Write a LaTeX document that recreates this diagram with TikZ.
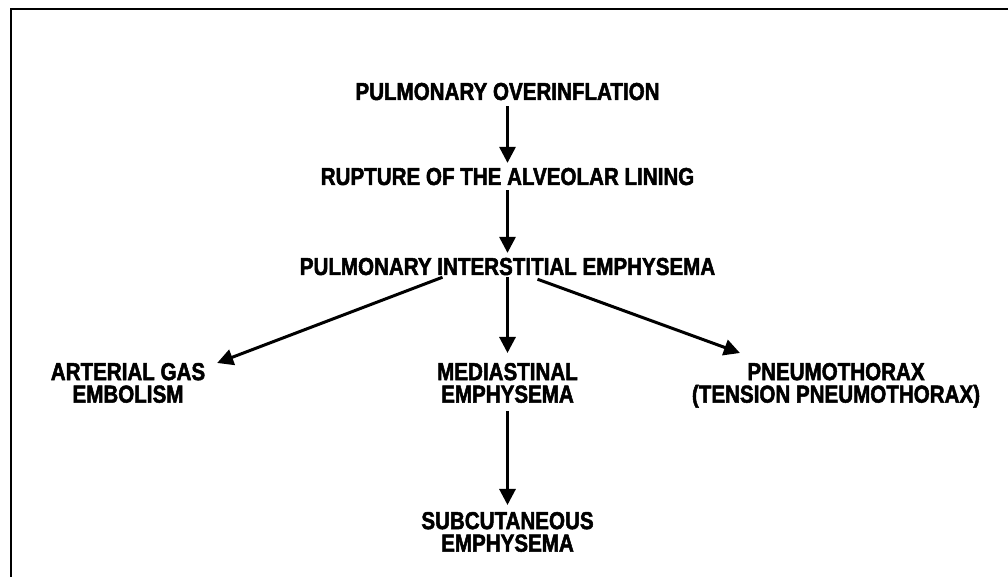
\documentclass[tikz,border=0pt]{standalone}
\usepackage{fontspec}
\setmainfont[FakeStretch=0.84,FakeBold=2]{Liberation Sans}
\usetikzlibrary{arrows.meta,calc}
\begin{document}
\begin{tikzpicture}[x=1pt,y=1pt,
  lbl/.style={inner sep=0pt,outer sep=0pt,align=center,
    font=\fontsize{24.5}{22.5}\selectfont\bfseries},
  arr/.style={line width=3pt,-{Triangle[length=16pt,width=16pt]}},
  frame/.style={line width=2pt}]
\useasboundingbox (0,0) rectangle (1008,577);
\draw[frame] (11,-10) -- (11,568) -- (1020,568);
\node[lbl,anchor=base] (n1) at (507.5,477) {PULMONARY OVERINFLATION};
\node[lbl,anchor=base] (n2) at (507.5,392) {RUPTURE OF THE ALVEOLAR LINING};
\node[lbl,anchor=base] (n3) at (507.5,302) {PULMONARY INTERSTITIAL EMPHYSEMA};
\node[lbl,anchor=north] (n4) at (128,214) {ARTERIAL GAS\\EMBOLISM};
\node[lbl,anchor=north] (n5) at (507.5,214) {MEDIASTINAL\\EMPHYSEMA};
\node[lbl,anchor=north] (n6) at (836,214) {PNEUMOTHORAX\\(TENSION PNEUMOTHORAX)};
\node[lbl,anchor=north] (n7) at (507.5,65) {SUBCUTANEOUS\\EMPHYSEMA};
\draw[arr,shorten <=6pt,shorten >=5pt] (n1.south) -- (n2.north);
\draw[arr,shorten <=5pt,shorten >=5pt] (n2.south) -- (n3.north);
\draw[arr] ($(n3.south)+(-65,-2)$) -- ($(n4.north east)+(12,0)$);
\draw[arr,shorten <=2pt,shorten >=10pt] (n3.south) -- (n5.north);
\draw[arr] ($(n3.south)+(30,-4)$) -- ($(n6.north west)+(48,10)$);
\draw[arr,shorten <=8pt,shorten >=7pt] (n5.south) -- (n7.north);
\end{tikzpicture}
\end{document}
